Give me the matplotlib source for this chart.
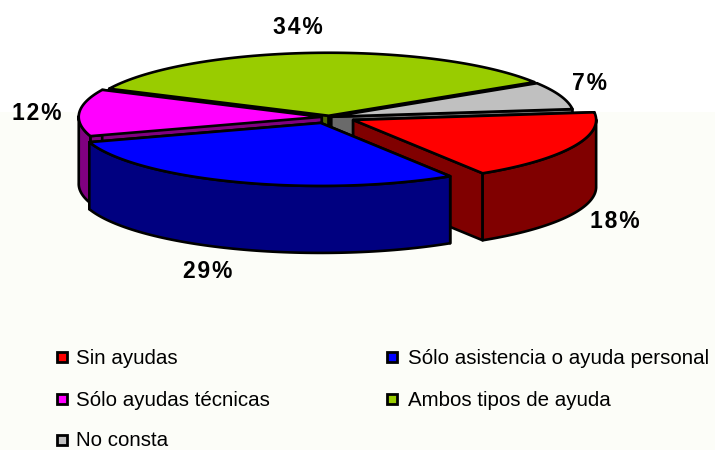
#!/usr/bin/env python3
"""Tarta 3D separada: tipos de ayuda"""

import matplotlib
matplotlib.use('Agg')
import matplotlib.pyplot as plt
import numpy as np
from matplotlib.patches import Polygon, Rectangle

labels = ['Sin ayudas', 'Sólo asistencia o ayuda personal', 'Sólo ayudas técnicas',
          'Ambos tipos de ayuda', 'No consta']
values = [18, 29, 12, 34, 7]
colors = ['#FF0000', '#0000FF', '#FF00FF', '#99CC00', '#C0C0C0']
dark_colors = ['#800000', '#000080', '#800080', '#4D6600', '#6A6A6A']

# Geometria de la tarta, en pixeles de la imagen
CX, CY = 329, 117
RX, RY = 243, 63
DEPTH = 67
START = 7.0
explode = [0.11, 0.1, 0.03, 0.02, 0.01]
draw_order = [3, 4, 0, 2, 1]
LW = 1.9

plt.rcParams['font.family'] = ['Liberation Sans', 'DejaVu Sans']

fig = plt.figure(figsize=(7.15, 4.5), dpi=100)
ax = fig.add_axes([0, 0, 1, 1])
ax.set_xlim(0, 715)
ax.set_ylim(450, 0)
ax.axis('off')
ax.add_patch(Rectangle((0, 112), 715, 338, facecolor='#FCFDF8', edgecolor='none', zorder=0))

# Angulos de cada porcion, en sentido horario
edges = START - np.cumsum([0] + values) * 3.6


def face(points, color, z):
    ax.add_patch(Polygon(points, closed=True, facecolor=color, edgecolor='black',
                         linewidth=LW, joinstyle='round', zorder=z))


for z, i in enumerate(draw_order):
    a0, a1 = edges[i], edges[i + 1]
    mid = np.radians((a0 + a1) / 2)
    ox = CX + explode[i] * RX * np.cos(mid)
    oy = CY - explode[i] * RY * np.sin(mid)
    t = np.radians(np.linspace(a0, a1, 80))
    x = ox + RX * np.cos(t)
    y = oy - RY * np.sin(t)

    base = 2 + z * 2
    # caras radiales interiores
    for ex, ey in [(x[0], y[0]), (x[-1], y[-1])]:
        face([(ox, oy), (ex, ey), (ex, ey + DEPTH), (ox, oy + DEPTH)], dark_colors[i], base)
    # pared exterior: solo la parte que mira hacia delante
    front = np.sin(t) <= 0.02
    if front.any():
        fx, fy = x[front], y[front]
        wall = list(zip(fx, fy)) + list(zip(fx[::-1], fy[::-1] + DEPTH))
        face(wall, dark_colors[i], base)
    # tapa
    face([(ox, oy)] + list(zip(x, y)), colors[i], base + 1)

# Porcentajes, con las letras algo separadas
pct_pos = [(615, 222), (208, 272), (37, 113), (298, 27), (590, 83)]
for v, (px, py) in zip(values, pct_pos):
    ax.text(px, py, '\u200a'.join(f'{v}%'), ha='center', va='center',
            fontsize=16.5, fontweight='bold', color='black', zorder=30)

# Leyenda
swatch_pos = [(62, 357), (392, 357), (62, 399), (392, 399), (62, 440)]
text_x = [76, 408, 76, 408, 76]
for lab, col, (lx, ly), tx in zip(labels, colors, swatch_pos, text_x):
    ax.add_patch(Rectangle((lx - 5, ly - 5), 10, 10, facecolor=col, edgecolor='black',
                           linewidth=2, zorder=30))
    ax.text(tx, ly + 1, lab, ha='left', va='center', fontsize=14.8, color='black', zorder=30)

fig.savefig('out.png', dpi=100)
